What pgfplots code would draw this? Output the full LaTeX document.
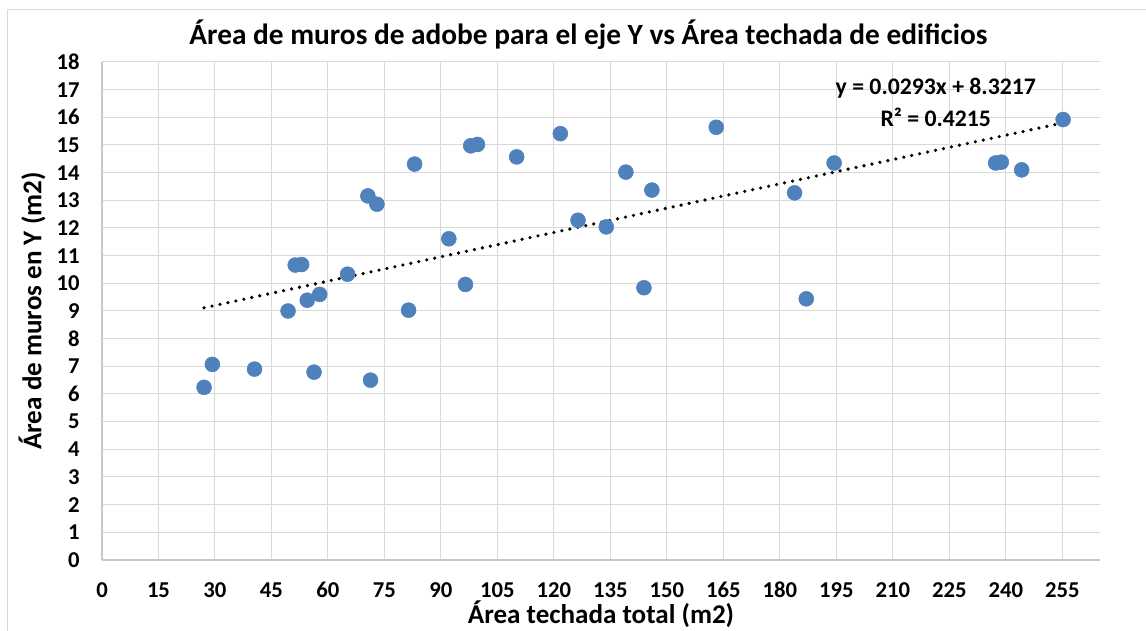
\documentclass[border=0pt]{standalone}
\usepackage{fontspec}
\setmainfont{Carlito}
\usepackage{pgfplots}
\pgfplotsset{compat=1.18}
\definecolor{mk}{HTML}{4F81BD}
\definecolor{gridc}{HTML}{D9D9D9}
\definecolor{axc}{HTML}{C8C8C8}
\pgfplotstableread{
x y
27.1 6.24
29.3 7.07
40.5 6.90
49.4 9.00
51.3 10.66
53.0 10.68
54.5 9.39
56.3 6.79
57.8 9.60
65.2 10.33
70.6 13.16
71.3 6.50
73.0 12.86
81.4 9.03
83.0 14.31
92.1 11.61
96.5 9.96
97.9 14.97
99.7 15.02
110.1 14.57
121.7 15.41
126.4 12.28
133.9 12.04
139.1 14.02
143.9 9.84
146.0 13.37
163.1 15.64
183.9 13.27
187.0 9.44
194.4 14.35
237.3 14.35
238.8 14.38
244.2 14.10
255.2 15.92
}\datatable
\begin{document}
\begin{tikzpicture}
\path[use as bounding box] (-76.5pt,-53.25pt) rectangle (783pt,420pt);
\draw[gridc, line width=0.75pt] (-70.7pt,-60pt) -- (-70.7pt,413pt) -- (790pt,413pt);
\begin{axis}[
 at={(0,0)}, anchor=south west,
 scale only axis, width=748.5pt, height=373.5pt,
 xmin=0, xmax=265, ymin=0, ymax=18,
 xtick={0,15,...,255}, ytick={0,1,...,18},
 grid=major, grid style={gridc, line width=0.75pt},
 axis x line*=bottom, axis y line*=left,
 axis line style={-, draw=axc, line width=0.9pt},
 major tick length=0pt,
 /pgf/number format/assume math mode=true,
 tick label style={font=\fontsize{17}{20}\selectfont\bfseries},
 xticklabel style={anchor=base, yshift=-28.5pt},
 yticklabel style={xshift=-13.3pt},
 xlabel={Área techada total (m2)},
 ylabel={Área de muros en Y (m2)},
 label style={font=\fontsize{20.3}{23}\selectfont\bfseries},
 xlabel style={at={([yshift=-41pt]axis description cs:0.5,0)}, anchor=center},
 ylabel style={at={([xshift=-52.5pt]axis description cs:0,0.5)}, anchor=center},
 title={Área de muros de adobe para el eje Y vs Área techada de edificios},
 title style={font=\fontsize{22}{25}\selectfont\bfseries, at={([xshift=-9.4pt,yshift=14.25pt]axis description cs:0.5,1)}, anchor=center},
]
\addplot[only marks, mark=*, mark size=5.6pt, mark options={fill=mk, draw=mk}] table[x=x,y=y] {\datatable};
\addplot[black, line width=2.7pt, dash pattern=on 0pt off 6.1pt, line cap=round, no marks] coordinates {(27.1,9.1157) (255.2,15.7991)};
\node[font=\fontsize{17.8}{21}\selectfont\bfseries] at (axis cs:221.4,17.05) {y = 0.0293x + 8.3217};
\node[font=\fontsize{17.8}{21}\selectfont\bfseries] at (axis cs:221.4,16.0) {R² = 0.4215};
\end{axis}
\end{tikzpicture}
\end{document}
